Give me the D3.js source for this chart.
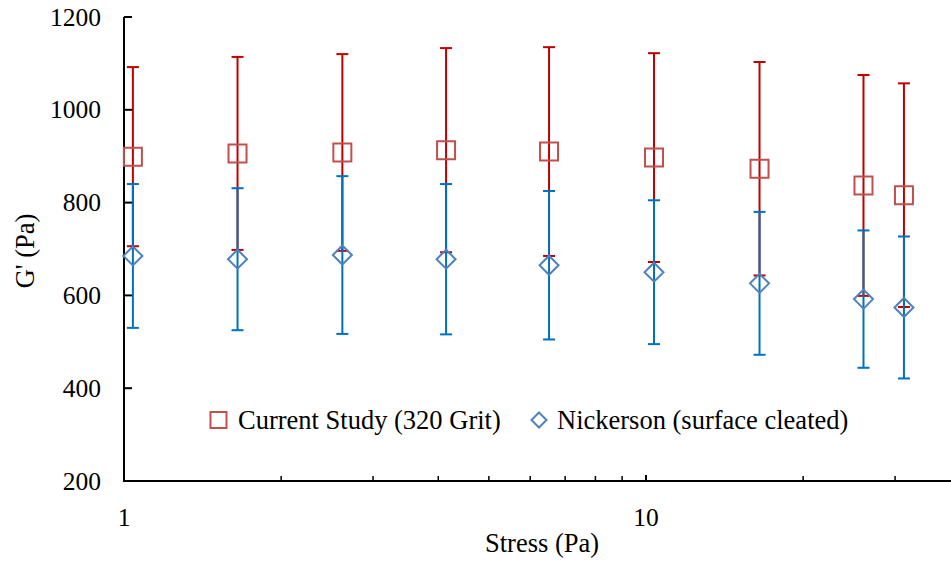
<!DOCTYPE html>
<html>
<head>
<meta charset="utf-8">
<script src="https://cdn.jsdelivr.net/npm/d3@7"></script>
<style>
  html, body { margin: 0; padding: 0; background: #fff; }
  svg { display: block; }
  text { font-family: "Liberation Serif", "Times New Roman", serif; fill: #000; }
</style>
</head>
<body>
<svg id="chart" width="951" height="561"></svg>
<script>
// Applied stress (Pa) for each measurement
const stress = [1.04, 1.65, 2.62, 4.14, 6.52, 10.36, 16.5, 26.1, 31.2];

// Storage modulus G' (Pa), mean and standard deviation
const currentMean = [899, 906, 908, 913, 910, 897, 873, 837, 816];
const currentErr  = [193, 208, 212, 220, 225, 225, 230, 238, 241];
const nickMean    = [685, 678, 687, 678, 665, 650, 626, 592, 574];
const nickErr     = [155, 153, 170, 162, 160, 155, 154, 148, 153];

const yTicks = [200, 400, 600, 800, 1000, 1200];
const xMajor = [1, 10];
const xMinor = [2, 3, 4, 5, 6, 7, 8, 9, 20, 30];

const seriesNames = ["Current Study (320 Grit)", "Nickerson (surface cleated)"];

const svg = d3.select("#chart");
const plotLeft = 124, plotTop = 17, plotBottom = 481;

const x = d3.scaleLog().domain([1, 40]).range([plotLeft, plotLeft + 522 * Math.log10(40)]);
const y = d3.scaleLinear().domain([200, 1200]).range([plotBottom, plotTop]);

const styles = [
  { bar: "#C00000", marker: "#C0504D", shape: "square" },
  { bar: "#0070C0", marker: "#4F81BD", shape: "diamond" }
];

const data = [
  stress.map((s, i) => ({ s, m: currentMean[i], e: currentErr[i] })),
  stress.map((s, i) => ({ s, m: nickMean[i], e: nickErr[i] }))
];

// Axes
const axisG = svg.append("g");
axisG.append("line")
  .attr("x1", plotLeft).attr("x2", plotLeft).attr("y1", plotTop).attr("y2", plotBottom + 1)
  .attr("stroke", "#000").attr("stroke-width", 2);
axisG.append("line")
  .attr("x1", plotLeft - 1).attr("x2", 951).attr("y1", plotBottom).attr("y2", plotBottom)
  .attr("stroke", "#000").attr("stroke-width", 2);

// y ticks point inward
axisG.selectAll(".yt").data(yTicks).join("line")
  .attr("x1", plotLeft).attr("x2", plotLeft + 8)
  .attr("y1", d => y(d)).attr("y2", d => y(d))
  .attr("stroke", "#000").attr("stroke-width", 2);
axisG.selectAll(".yl").data(yTicks).join("text")
  .attr("x", 101).attr("y", d => y(d) + 8.5)
  .attr("text-anchor", "end").attr("font-size", 25.5)
  .text(d => d);

// x ticks point inward
axisG.selectAll(".xM").data(xMajor).join("line")
  .attr("x1", d => x(d)).attr("x2", d => x(d))
  .attr("y1", plotBottom).attr("y2", plotBottom - 6)
  .attr("stroke", "#000").attr("stroke-width", 2);
axisG.selectAll(".xm").data(xMinor).join("line")
  .attr("x1", d => x(d)).attr("x2", d => x(d))
  .attr("y1", plotBottom).attr("y2", plotBottom - 5)
  .attr("stroke", "#000").attr("stroke-width", 1.5);
axisG.selectAll(".xl").data(xMajor).join("text")
  .attr("x", d => x(d)).attr("y", 526)
  .attr("text-anchor", "middle").attr("font-size", 25.5)
  .text(d => d);

svg.append("text")
  .attr("x", 542).attr("y", 552)
  .attr("text-anchor", "middle").attr("font-size", 26.5)
  .text("Stress (Pa)");
svg.append("text")
  .attr("transform", "translate(34,251) rotate(-90)")
  .attr("text-anchor", "middle").attr("font-size", 26.5)
  .text("G' (Pa)");

// Error bars with caps
const capW = 6;
data.forEach((series, k) => {
  const g = svg.append("g").attr("stroke", styles[k].bar).attr("stroke-width", 2).attr("fill", "none");
  g.selectAll(".v").data(series).join("line")
    .attr("x1", d => x(d.s)).attr("x2", d => x(d.s))
    .attr("y1", d => y(d.m - d.e)).attr("y2", d => y(d.m + d.e));
  g.selectAll(".ct").data(series).join("line")
    .attr("x1", d => x(d.s) - capW).attr("x2", d => x(d.s) + capW)
    .attr("y1", d => y(d.m + d.e)).attr("y2", d => y(d.m + d.e));
  g.selectAll(".cb").data(series).join("line")
    .attr("x1", d => x(d.s) - capW).attr("x2", d => x(d.s) + capW)
    .attr("y1", d => y(d.m - d.e)).attr("y2", d => y(d.m - d.e));
});

// Open markers
function markerPath(shape, cx, cy) {
  if (shape === "square") {
    const h = 9;
    return `M${cx - h},${cy - h}H${cx + h}V${cy + h}H${cx - h}Z`;
  }
  const h = 9.5;
  return `M${cx},${cy - h}L${cx + h},${cy}L${cx},${cy + h}L${cx - h},${cy}Z`;
}
data.forEach((series, k) => {
  svg.append("g").selectAll("path").data(series).join("path")
    .attr("d", d => markerPath(styles[k].shape, x(d.s), y(d.m)))
    .attr("fill", "none").attr("stroke", styles[k].marker).attr("stroke-width", 2);
});

// Legend
const legend = svg.append("g");
const legendItems = [
  { mx: 218.5, tx: 238, k: 0 },
  { mx: 539, tx: 557, k: 1 }
];
legendItems.forEach(it => {
  const cy = 420;
  const shape = styles[it.k].shape;
  const p = shape === "square"
    ? `M${it.mx - 8},${cy - 8}H${it.mx + 8}V${cy + 8}H${it.mx - 8}Z`
    : `M${it.mx},${cy - 7.5}L${it.mx + 7.5},${cy}L${it.mx},${cy + 7.5}L${it.mx - 7.5},${cy}Z`;
  legend.append("path").attr("d", p)
    .attr("fill", "none").attr("stroke", styles[it.k].marker).attr("stroke-width", 2);
  legend.append("text").attr("x", it.tx).attr("y", cy + 9)
    .attr("font-size", 26.5).text(seriesNames[it.k]);
});
</script>
</body>
</html>
